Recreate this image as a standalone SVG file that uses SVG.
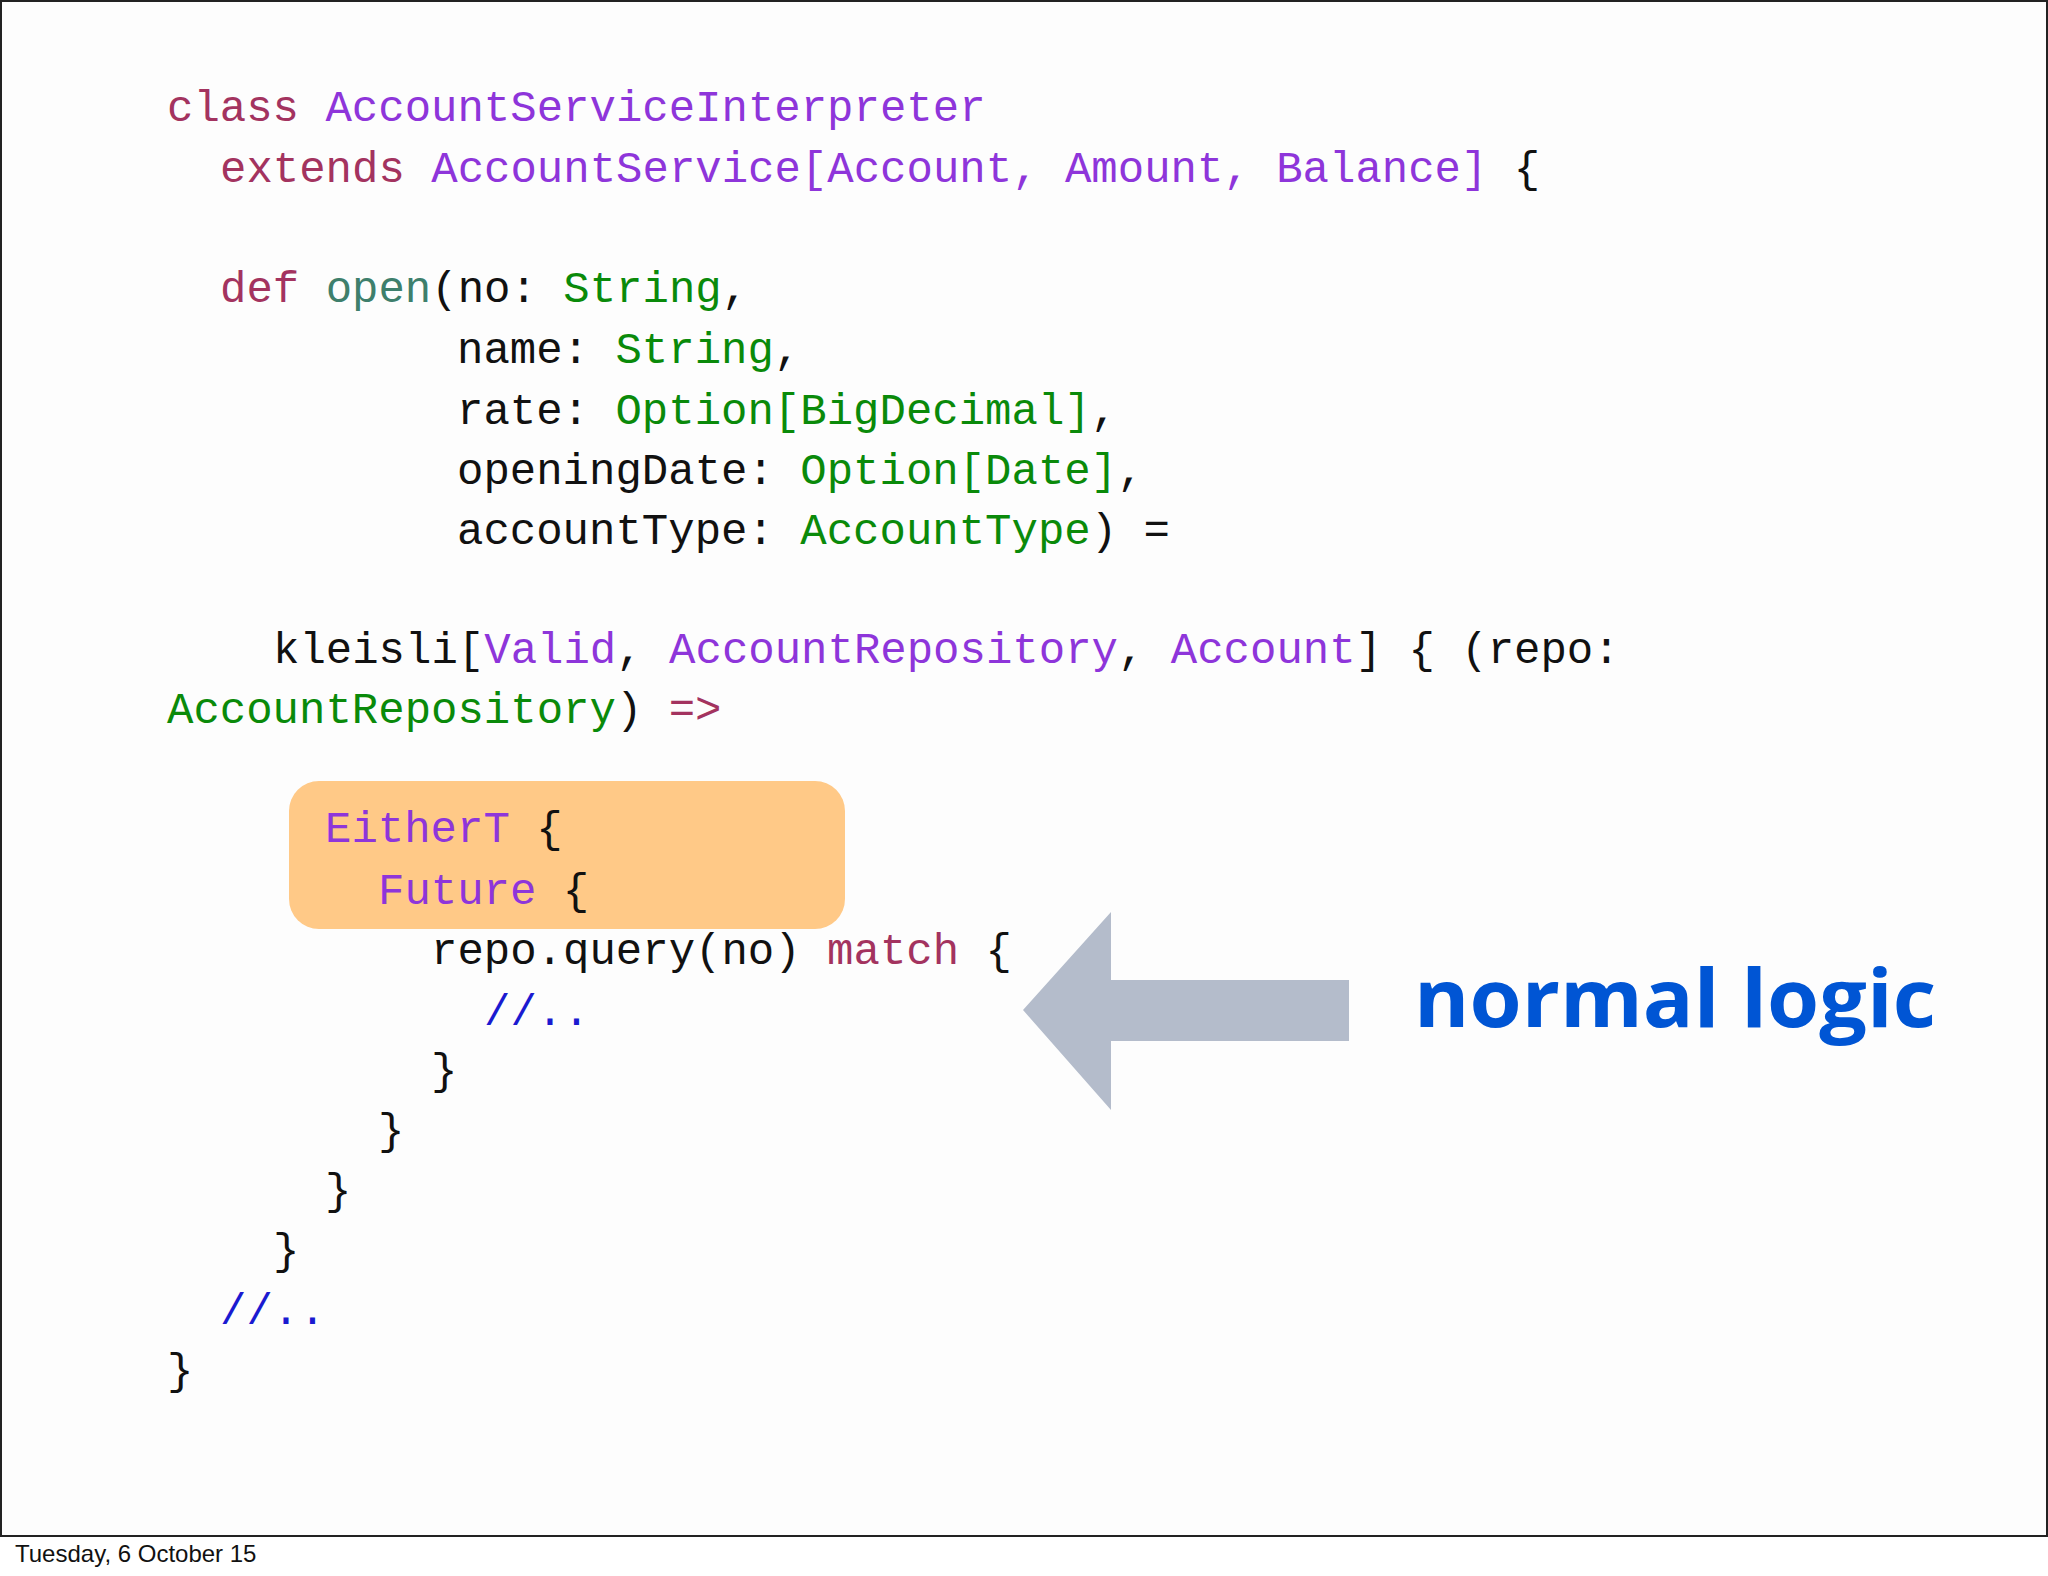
<svg xmlns="http://www.w3.org/2000/svg" width="2048" height="1576" viewBox="0 0 2048 1576">
<style>
.c{font-family:"Liberation Mono","DejaVu Sans Mono",monospace;font-size:44px;fill:#111;white-space:pre}
.k{fill:#A3335F}.t{fill:#8E35DA}.g{fill:#0A8A0A}.f{fill:#3E7F6C}.m{fill:#1A1AD0}
</style>
<rect x="0" y="0" width="2048" height="1576" fill="#fff"/>
<rect x="1" y="1" width="2046" height="1535" fill="#fdfdfd" stroke="#222" stroke-width="2"/>
<g id="highlight"><rect x="289" y="781" width="556" height="148" rx="30" fill="#FFC987"/></g>
<g id="code" class="c">
<text x="167" y="121"><tspan class="k">class</tspan> <tspan class="t">AccountServiceInterpreter</tspan></text>
<text x="220" y="182"><tspan class="k">extends</tspan> <tspan class="t">AccountService[Account, Amount, Balance]</tspan> {</text>
<text x="220" y="302"><tspan class="k">def</tspan> <tspan class="f">open</tspan>(no: <tspan class="g">String</tspan>,</text>
<text x="457" y="363">name: <tspan class="g">String</tspan>,</text>
<text x="457" y="424">rate: <tspan class="g">Option[BigDecimal]</tspan>,</text>
<text x="457" y="484">openingDate: <tspan class="g">Option[Date]</tspan>,</text>
<text x="457" y="544">accountType: <tspan class="g">AccountType</tspan>) =</text>
<text x="273" y="663">kleisli[<tspan class="t">Valid</tspan>, <tspan class="t">AccountRepository</tspan>, <tspan class="t">Account</tspan>] { (repo:</text>
<text x="167" y="723"><tspan class="g">AccountRepository</tspan>) <tspan class="k">=&gt;</tspan></text>
<text x="325" y="842"><tspan class="t">EitherT</tspan> {</text>
<text x="378" y="904"><tspan class="t">Future</tspan> {</text>
<text x="431" y="964">repo.query(no) <tspan class="k">match</tspan> {</text>
<text x="484" y="1025" class="m">//..</text>
<text x="431" y="1084">}</text>
<text x="378" y="1144">}</text>
<text x="325" y="1204">}</text>
<text x="273" y="1264">}</text>
<text x="220" y="1324" class="m">//..</text>
<text x="167" y="1384">}</text>
</g>
<g id="arrow"><polygon points="1023,1010 1111,912 1111,980 1349,980 1349,1041 1111,1041 1111,1110" fill="#B4BCCB"/></g>
<g id="label"><text x="1414" y="1027" font-family="Open Sans, Lato, sans-serif" font-weight="bold" font-size="80" fill="#0055D4" textLength="522" lengthAdjust="spacingAndGlyphs">normal logic</text></g>
<text x="15" y="1562" font-family="Liberation Sans, Arial, sans-serif" font-size="24" fill="#111">Tuesday, 6 October 15</text>
</svg>
